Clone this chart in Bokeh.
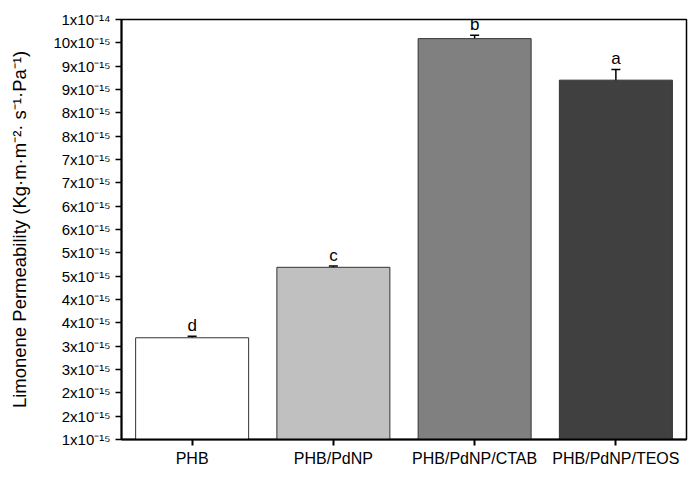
from bokeh.plotting import figure
from bokeh.models import FactorRange, Range1d, FixedTicker, ColumnDataSource, Whisker, TeeHead
from bokeh.core.properties import value
from bokeh.embed import file_html
from bokeh.resources import INLINE

# Data (values in units of 1x10^-15 Kg·m·m^-2·s^-1·Pa^-1)
categories = ["PHB", "PHB/PdNP", "PHB/PdNP/CTAB", "PHB/PdNP/TEOS"]
permeability = [3.18, 4.69, 9.59, 8.70]
errors = [0.03, 0.03, 0.07, 0.23]
letters = ["d", "c", "b", "a"]
bar_colors = ["#ffffff", "#c0c0c0", "#808080", "#404040"]

y_ticks = [1.0, 1.5, 2.0, 2.5, 3.0, 3.5, 4.0, 4.5, 5.0, 5.5, 6.0, 6.5,
           7.0, 7.5, 8.0, 8.5, 9.0, 9.5, 10.0]
y_tick_labels = ["1x10⁻¹⁵", "2x10⁻¹⁵", "2x10⁻¹⁵", "3x10⁻¹⁵", "3x10⁻¹⁵",
                 "4x10⁻¹⁵", "4x10⁻¹⁵", "5x10⁻¹⁵", "5x10⁻¹⁵", "6x10⁻¹⁵",
                 "6x10⁻¹⁵", "7x10⁻¹⁵", "7x10⁻¹⁵", "8x10⁻¹⁵", "8x10⁻¹⁵",
                 "9x10⁻¹⁵", "9x10⁻¹⁵", "10x10⁻¹⁵", "1x10⁻¹⁴"]
y_min, y_max = 1.0, 10.0

FONT = "Liberation Sans"

src = ColumnDataSource(data=dict(
    cat=categories,
    val=permeability,
    err=errors,
    upper=[v + e for v, e in zip(permeability, errors)],
    lower=[v - e for v, e in zip(permeability, errors)],
    letter=letters,
    color=bar_colors,
))

p = figure(x_range=FactorRange(factors=categories, range_padding=0),
           y_range=Range1d(y_min, y_max),
           width=690, height=469, output_backend="svg", toolbar_location=None,
           min_border_left=121, min_border_right=4, min_border_top=19, min_border_bottom=30)

p.vbar(x="cat", top="val", bottom=y_min, width=0.8, source=src,
       fill_color="color", line_color="#333333", line_width=1)

p.add_layout(Whisker(source=src, base="cat", upper="upper", lower="lower",
                     line_color="black", line_width=1.5,
                     upper_head=TeeHead(size=9, line_color="black", line_width=1.5),
                     lower_head=TeeHead(size=9, line_color="black", line_width=1.5)))

p.text(x="cat", y="upper", text="letter", source=src,
       text_align="center", text_baseline="bottom", y_offset=-1,
       text_font=value(FONT), text_font_size="17px", text_color="black")

p.xgrid.visible = False
p.ygrid.visible = False
p.outline_line_color = "black"
p.outline_line_width = 1.5
p.outline_line_alpha = 1

# Y axis
ya = p.yaxis[0]
ya.ticker = FixedTicker(ticks=y_ticks, minor_ticks=[])
ya.major_label_overrides = {t: l for t, l in zip(y_ticks, y_tick_labels)}
ya.axis_label = "Limonene Permeability (Kg·m·m⁻²· s⁻¹·Pa⁻¹)"
ya.axis_label_text_font = FONT
ya.axis_label_text_font_size = "18.5px"
ya.axis_label_text_font_style = "normal"
ya.axis_label_text_color = "black"
ya.axis_label_standoff = 20
ya.major_label_text_font = FONT
ya.major_label_text_font_size = "15px"
ya.major_label_text_color = "black"
ya.major_label_standoff = 5
ya.major_tick_out = 6
ya.major_tick_in = 0
ya.major_tick_line_width = 1.5
ya.axis_line_width = 2
ya.minor_tick_line_color = None

# X axis
xa = p.xaxis[0]
xa.major_label_text_font = FONT
xa.major_label_text_font_size = "16px"
xa.major_label_text_color = "black"
xa.major_label_standoff = 4
xa.major_tick_out = 6
xa.major_tick_in = 0
xa.major_tick_line_width = 2
xa.axis_line_width = 2
xa.group_text_font_size = "0px"

open("out.html", "w").write(file_html(p, INLINE))
